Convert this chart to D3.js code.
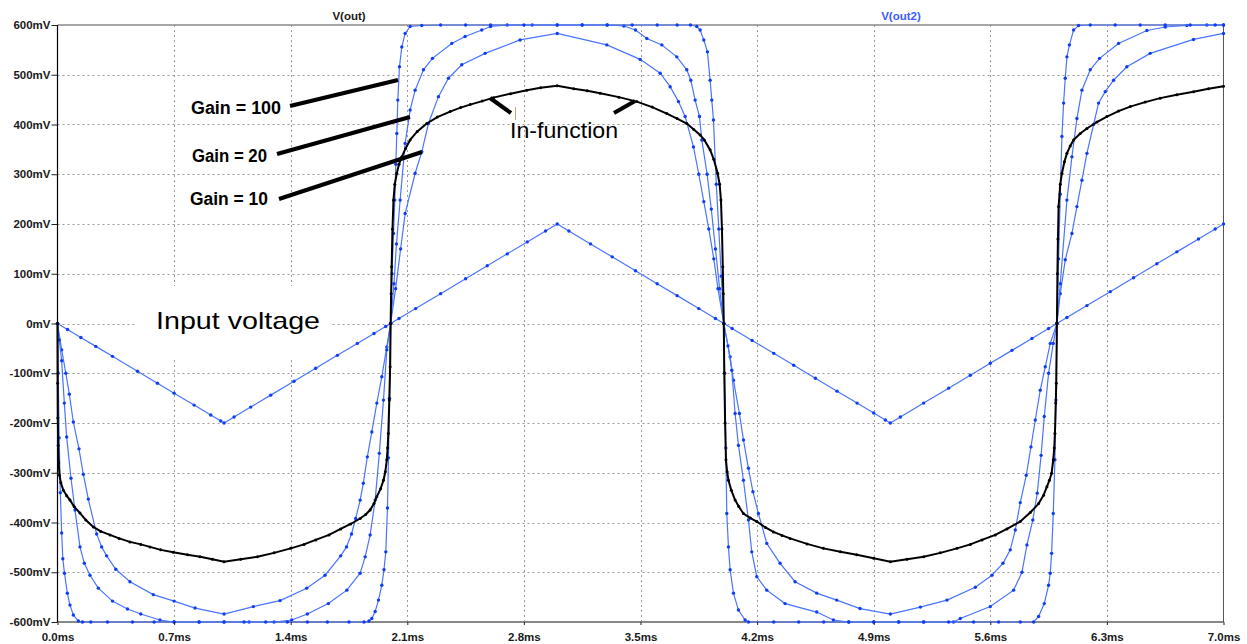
<!DOCTYPE html>
<html>
<head>
<meta charset="utf-8">
<script src="https://cdn.jsdelivr.net/npm/d3@7"></script>
<style>
  body { margin: 0; background: #fff; }
  svg { display: block; font-family: "Liberation Sans", Arial, sans-serif; }
</style>
</head>
<body>
<svg width="1247" height="644"></svg>
<script>

// axis ticks
const xTicks = [0, 0.7, 1.4, 2.1, 2.8, 3.5, 4.2, 4.9, 5.6, 6.3, 7.0];
const xTickLabels = ["0.0ms", "0.7ms", "1.4ms", "2.1ms", "2.8ms", "3.5ms", "4.2ms", "4.9ms", "5.6ms", "6.3ms", "7.0ms"];
const yTicks = [-600, -500, -400, -300, -200, -100, 0, 100, 200, 300, 400, 500, 600];
const yTickLabels = ["-600mV", "-500mV", "-400mV", "-300mV", "-200mV", "-100mV", "0mV", "100mV", "200mV", "300mV", "400mV", "500mV", "600mV"];

// [time ms, mV]
const inputVoltage = [[0,0],[0.06,-12],[0.14,-28],[0.23,-46],[0.33,-66],[0.48,-96],[0.6,-120],[0.7,-140],[0.82,-164],[0.92,-184],[0.98,-196],[1.0,-200],
  [1.06,-188],[1.16,-168],[1.28,-144],[1.42,-116],[1.55,-90],[1.68,-64],[1.8,-40],[1.9,-20],[1.97,-6],[2.0,0],[2.05,10],[2.15,30],[2.3,60],[2.45,90],
  [2.58,116],[2.7,140],[2.82,164],[2.93,186],[3.0,200],[3.07,186],[3.2,160],[3.33,134],[3.47,106],[3.6,80],[3.72,56],[3.85,30],[3.95,10],[4.0,0],
  [4.05,-10],[4.17,-34],[4.3,-60],[4.42,-84],[4.55,-110],[4.68,-136],[4.8,-160],[4.9,-180],[4.97,-194],[5.0,-200],[5.06,-188],[5.2,-160],[5.35,-130],
  [5.48,-104],[5.6,-80],[5.73,-54],[5.85,-30],[5.95,-10],[6.0,0],[6.06,12],[6.18,36],[6.32,64],[6.46,92],[6.6,120],[6.72,144],[6.85,170],[6.95,190],[7.0,200]];

const gain10 = [[0,0],[0.025,-53],[0.05,-100],[0.071,-142],[0.095,-198],[0.129,-252],[0.155,-303],[0.185,-353],[0.235,-423],[0.265,-449],[0.295,-467],
  [0.35,-494],[0.435,-519],[0.575,-545],[0.7,-558],[0.826,-572],[1.0,-584],[1.176,-569],[1.336,-557],[1.496,-532],[1.606,-506],[1.7,-467],[1.735,-449],
  [1.765,-423],[1.79,-392],[1.817,-355],[1.836,-321],[1.86,-268],[1.887,-218],[1.917,-160],[1.947,-107],[1.977,-47],[2.0,0],[2.03,70],[2.06,150],
  [2.087,221],[2.147,302],[2.187,345],[2.227,402],[2.287,456],[2.347,493],[2.427,520],[2.567,543],[2.777,570],[3.0,583],[3.298,560],[3.498,531],
  [3.618,503],[3.678,476],[3.728,446],[3.768,416],[3.818,355],[3.85,300],[3.88,245],[3.91,190],[3.94,130],[3.965,70],[4.0,0],[4.038,-67],[4.058,-114],
  [4.094,-181],[4.118,-234],[4.148,-291],[4.175,-338],[4.208,-382],[4.258,-442],[4.338,-482],[4.428,-519],[4.558,-542],[4.678,-556],[4.818,-573],
  [5.0,-584],[5.18,-570],[5.34,-556],[5.51,-530],[5.61,-506],[5.676,-482],[5.72,-455],[5.75,-415],[5.78,-360],[5.816,-305],[5.844,-248],[5.87,-194],
  [5.9,-134],[5.93,-87],[5.96,-40],[6.0,0],[6.02,60],[6.05,128],[6.09,181],[6.12,235],[6.15,288],[6.18,342],[6.22,400],[6.25,443],[6.29,466],
  [6.34,489],[6.42,516],[6.56,543],[6.82,571],[7.0,583]];

const gain20 = [[0,0],[0.011,-33],[0.025,-75],[0.041,-160],[0.055,-228],[0.081,-311],[0.105,-375],[0.135,-449],[0.161,-482],[0.195,-506],[0.245,-532],
  [0.33,-558],[0.42,-574],[0.5,-584],[0.615,-596],[0.7,-600],[0.85,-600],[1.0,-600],[1.15,-600],[1.3,-600],[1.406,-596],[1.5,-584],[1.626,-563],
  [1.737,-536],[1.817,-502],[1.847,-469],[1.877,-425],[1.907,-355],[1.932,-261],[1.957,-154],[1.977,-53],[2.0,0],[2.02,80],[2.035,160],[2.057,248],
  [2.087,362],[2.117,429],[2.147,469],[2.197,510],[2.251,533],[2.367,563],[2.447,577],[2.547,590],[2.6,597],[2.7,600],[2.85,600],[3.0,600],[3.15,600],
  [3.3,600],[3.4,598],[3.47,590],[3.538,573],[3.628,560],[3.718,536],[3.778,510],[3.802,489],[3.828,449],[3.854,416],[3.868,369],[3.9,300],[3.925,230],[3.95,150],
  [3.975,70],[4.0,0],[4.025,-45],[4.048,-94],[4.068,-181],[4.088,-245],[4.118,-315],[4.148,-395],[4.168,-459],[4.198,-509],[4.258,-536],[4.368,-563],
  [4.558,-580],[4.658,-596],[4.75,-600],[4.9,-600],[5.05,-600],[5.2,-600],[5.379,-600],[5.42,-593],[5.6,-569],[5.74,-536],[5.79,-500],[5.82,-445],
  [5.855,-395],[5.882,-341],[5.905,-265],[5.924,-187],[5.95,-100],[5.978,-40],[6.0,0],[6.02,80],[6.06,248],[6.09,335],[6.12,412],[6.15,469],[6.2,510],
  [6.256,533],[6.37,563],[6.54,589],[6.65,596],[6.78,599],[6.9,600],[7.0,600]];

const gain100 = [[0,0],[0.004,-100],[0.01,-230],[0.017,-340],[0.025,-421],[0.032,-473],[0.042,-502],[0.059,-542],[0.075,-566],[0.095,-586],[0.125,-598],
  [0.15,-600],[0.2,-600],[0.3,-600],[0.45,-600],[0.58,-600],[0.7,-600],[0.85,-600],[1.0,-600],[1.12,-600],[1.25,-600],[1.38,-600],[1.5,-600],[1.62,-600],
  [1.75,-600],[1.84,-600],[1.87,-598],[1.887,-593],[1.907,-579],[1.927,-556],[1.947,-526],[1.96,-495],[1.971,-459],[1.981,-371],[1.987,-270],[1.993,-150],
  [2.0,0],[2.008,100],[2.017,181],[2.025,248],[2.031,320],[2.037,382],[2.043,449],[2.053,516],[2.067,556],[2.087,583],[2.117,597],[2.187,599],[2.3,600],
  [2.45,600],[2.6,600],[2.8,600],[3.0,600],[3.15,600],[3.3,600],[3.45,600],[3.6,600],[3.72,600],[3.8,600],[3.838,597],[3.858,590],[3.88,570],[3.902,546],
  [3.918,489],[3.928,449],[3.938,409],[3.955,280],[3.97,190],[3.985,95],[4.0,0],[4.005,-100],[4.012,-250],[4.018,-382],[4.028,-449],[4.038,-495],
  [4.058,-542],[4.088,-576],[4.128,-596],[4.148,-600],[4.3,-600],[4.45,-600],[4.6,-600],[4.75,-600],[4.9,-600],[5.05,-600],[5.2,-600],[5.35,-600],
  [5.5,-600],[5.65,-600],[5.78,-600],[5.86,-600],[5.89,-589],[5.924,-563],[5.95,-526],[5.96,-502],[5.968,-462],[5.978,-382],[5.988,-274],[5.994,-154],
  [6.0,0],[6.01,130],[6.02,260],[6.03,376],[6.04,443],[6.05,493],[6.06,536],[6.075,560],[6.1,590],[6.13,599],[6.2,600],[6.35,600],[6.5,600],[6.65,600],
  [6.8,600],[6.95,600],[7.0,600]];

const inFunction = [[0,0],[0.001,-120],[0.002,-190],[0.004,-245],[0.007,-280],[0.012,-305],[0.02,-320],[0.035,-335],[0.055,-346],[0.075,-355],[0.1,-368],
  [0.135,-381],[0.17,-395],[0.215,-409],[0.26,-418],[0.315,-425],[0.37,-432],[0.435,-439],[0.5,-444],[0.555,-449],[0.62,-455],[0.695,-460],[0.78,-465],
  [0.856,-469],[0.93,-474],[1.0,-479],[1.1,-474],[1.2,-469],[1.3,-461],[1.4,-452],[1.48,-444],[1.55,-435],[1.63,-425],[1.7,-413],[1.76,-403],[1.817,-392],
  [1.85,-384],[1.877,-375],[1.9,-362],[1.917,-348],[1.94,-332],[1.957,-315],[1.968,-298],[1.977,-274],[1.982,-250],[1.986,-221],[1.992,-154],[1.997,-87],
  [2.0,0],[2.003,60],[2.006,114],[2.011,190],[2.017,248],[2.025,280],[2.037,302],[2.05,320],[2.067,335],[2.09,352],[2.117,369],[2.16,386],[2.217,402],
  [2.28,415],[2.357,426],[2.42,434],[2.477,440],[2.55,447],[2.617,454],[2.72,462],[2.817,469],[2.9,474],[3.0,478],[3.1,472],[3.18,468],[3.258,463],
  [3.37,455],[3.478,446],[3.57,435],[3.658,422],[3.72,412],[3.778,402],[3.82,390],[3.858,379],[3.883,369],[3.918,349],[3.94,330],[3.963,302],[3.975,280],
  [3.983,248],[3.989,190],[3.994,114],[3.997,60],[4.0,0],[4.003,-100],[4.008,-200],[4.013,-274],[4.02,-298],[4.028,-315],[4.045,-335],[4.068,-355],
  [4.09,-368],[4.118,-382],[4.16,-391],[4.198,-398],[4.25,-410],[4.298,-419],[4.35,-426],[4.398,-432],[4.5,-443],[4.598,-452],[4.7,-459],[4.798,-465],
  [4.9,-472],[5.0,-479],[5.1,-474],[5.2,-469],[5.3,-461],[5.4,-452],[5.48,-444],[5.55,-435],[5.63,-425],[5.7,-413],[5.78,-398],[5.84,-380],[5.89,-362],
  [5.92,-345],[5.94,-328],[5.955,-315],[5.968,-301],[5.978,-274],[5.984,-250],[5.988,-221],[5.993,-160],[5.996,-120],[6.0,0],[6.003,100],[6.006,170],
  [6.01,235],[6.02,280],[6.03,302],[6.045,325],[6.06,342],[6.08,357],[6.1,369],[6.14,382],[6.18,392],[6.24,405],[6.3,416],[6.37,427],[6.44,436],
  [6.53,445],[6.62,453],[6.72,460],[6.82,466],[6.91,472],[7.0,477]];

const svg = d3.select("svg");

const x = d3.scaleLinear().domain([0, 7]).range([57.5, 1223.5]);
const y = d3.scaleLinear().domain([-600, 600]).range([622, 25]);

// grid (dotted)
const grid = svg.append("g").attr("stroke", "#9a9a9a").attr("stroke-dasharray", "2,3").attr("stroke-width", 1);
grid.selectAll(".gx")
  .data(xTicks.slice(1, -1))
  .enter().append("line")
  .attr("x1", d => Math.round(x(d)) + 0.5).attr("x2", d => Math.round(x(d)) + 0.5)
  .attr("y1", y(600)).attr("y2", y(-600));
grid.selectAll(".gy")
  .data(yTicks.slice(1, -1))
  .enter().append("line")
  .attr("x1", x(0)).attr("x2", x(7))
  .attr("y1", d => Math.round(y(d)) + 0.5).attr("y2", d => Math.round(y(d)) + 0.5);

// white box behind "Input voltage"
svg.append("rect").attr("x", 137).attr("y", 286).attr("width", 194).attr("height", 74).attr("fill", "#fff");

// frame
svg.append("line").attr("x1", x(0)).attr("x2", x(7)).attr("y1", 25).attr("y2", 25).attr("stroke", "#888").attr("stroke-width", 1.5);
svg.append("line").attr("x1", x(0)).attr("x2", x(7)).attr("y1", 622).attr("y2", 622).attr("stroke", "#888").attr("stroke-width", 2);
svg.append("line").attr("x1", x(7)).attr("x2", x(7)).attr("y1", 25).attr("y2", 622).attr("stroke", "#555").attr("stroke-width", 1);

const line = d3.line().x(d => x(d[0])).y(d => y(d[1]));

const blueSeries = [inputVoltage, gain10, gain20, gain100];
blueSeries.forEach(s => {
  svg.append("path").datum(s)
    .attr("d", line)
    .attr("fill", "none")
    .attr("stroke", "#4a74ff")
    .attr("stroke-width", 1.2);
  svg.append("g").selectAll("circle")
    .data(s)
    .enter().append("circle")
    .attr("cx", d => x(d[0]))
    .attr("cy", d => y(d[1]))
    .attr("r", 1.7)
    .attr("fill", "#0f3df2");
});

svg.append("path").datum(inFunction)
  .attr("d", line)
  .attr("fill", "none")
  .attr("stroke", "#000")
  .attr("stroke-width", 2);
svg.append("g").selectAll("circle")
  .data(inFunction)
  .enter().append("circle")
  .attr("cx", d => x(d[0]))
  .attr("cy", d => y(d[1]))
  .attr("r", 1.5)
  .attr("fill", "#000");

// axes
const yAxis = svg.append("g")
  .attr("transform", "translate(57.5,0)")
  .call(d3.axisLeft(y).tickValues(yTicks).tickFormat((d, i) => yTickLabels[i]).tickSize(6).tickPadding(1));
const xAxis = svg.append("g")
  .attr("transform", "translate(0,622)")
  .call(d3.axisBottom(x).tickValues(xTicks).tickFormat((d, i) => xTickLabels[i]).tickSize(3).tickPadding(8));

yAxis.select(".domain").attr("stroke", "#000").attr("stroke-width", 1.2).attr("d", "M0,25V622");
xAxis.select(".domain").remove();
[xAxis, yAxis].forEach(a => {
  a.selectAll(".tick line").attr("stroke", "#222");
  a.selectAll("text")
    .attr("font-family", "'Liberation Sans', Arial, sans-serif")
    .attr("font-weight", "bold")
    .attr("font-size", 11.5)
    .attr("fill", "#1a1a1a");
});

// trace titles
svg.append("text").attr("x", 349).attr("y", 20).attr("text-anchor", "middle")
  .attr("font-size", 11.5).attr("font-weight", "bold").attr("fill", "#1a1a1a").text("V(out)");
svg.append("text").attr("x", 901).attr("y", 20).attr("text-anchor", "middle")
  .attr("font-size", 11.5).attr("font-weight", "bold").attr("fill", "#3a5cff").text("V(out2)");

// annotations
const pointers = [
  [290, 106, 398, 80],
  [277, 154, 410, 117],
  [279, 199, 422, 152],
  [490, 98, 511, 113],
  [635, 101, 614, 113]
];
svg.append("g").selectAll("line")
  .data(pointers)
  .enter().append("line")
  .attr("x1", d => d[0]).attr("y1", d => d[1])
  .attr("x2", d => d[2]).attr("y2", d => d[3])
  .attr("stroke", "#000").attr("stroke-width", 4);

svg.append("line").attr("x1", 515.5).attr("x2", 515.5).attr("y1", 107).attr("y2", 120)
  .attr("stroke", "#c8a878").attr("stroke-width", 1);

const gainLabels = [["Gain = 100", 191, 114, 90], ["Gain = 20", 192, 162, 75], ["Gain = 10", 190, 205, 78]];
svg.append("g").selectAll("text")
  .data(gainLabels)
  .enter().append("text")
  .attr("x", d => d[1]).attr("y", d => d[2])
  .attr("textLength", d => d[3]).attr("lengthAdjust", "spacingAndGlyphs")
  .attr("font-size", 18).attr("font-weight", "bold").attr("fill", "#000")
  .text(d => d[0]);

svg.append("text").attr("x", 510).attr("y", 138)
  .attr("textLength", 108).attr("lengthAdjust", "spacingAndGlyphs")
  .attr("font-size", 22).attr("fill", "#000").text("In-function");
svg.append("text").attr("x", 156).attr("y", 329)
  .attr("textLength", 164).attr("lengthAdjust", "spacingAndGlyphs")
  .attr("font-size", 24).attr("fill", "#000").text("Input voltage");

</script>
</body>
</html>
